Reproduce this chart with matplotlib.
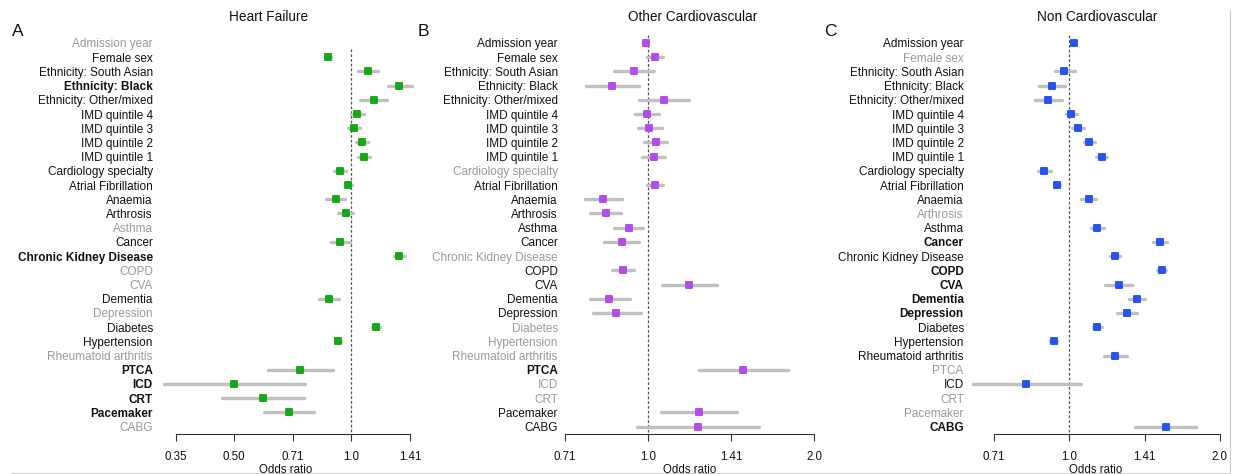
import matplotlib
matplotlib.use('Agg')
import matplotlib.pyplot as plt
from matplotlib.markers import MarkerStyle
from matplotlib.lines import Line2D
from matplotlib.ticker import NullLocator
import numpy as np

plt.rcParams['font.family'] = ['Liberation Sans', 'DejaVu Sans']

nan = np.nan

rows = ['Admission year', 'Female sex', 'Ethnicity: South Asian', 'Ethnicity: Black',
        'Ethnicity: Other/mixed', 'IMD quintile 4', 'IMD quintile 3', 'IMD quintile 2',
        'IMD quintile 1', 'Cardiology specialty', 'Atrial Fibrillation', 'Anaemia',
        'Arthrosis', 'Asthma', 'Cancer', 'Chronic Kidney Disease', 'COPD', 'CVA',
        'Dementia', 'Depression', 'Diabetes', 'Hypertension', 'Rheumatoid arthritis',
        'PTCA', 'ICD', 'CRT', 'Pacemaker', 'CABG']

# Heart Failure
or_A = [nan, 0.872, 1.101, 1.328, 1.141, 1.035, 1.014, 1.065, 1.077, 0.935, 0.982, 0.911, 0.967, nan,
        0.937, 1.325, nan, nan, 0.876, nan, 1.155, 0.924, nan, 0.739, 0.500, 0.592, 0.693, nan]
lo_A = [nan, 0.858, 1.040, 1.240, 1.055, 1.000, 0.980, 1.028, 1.040, 0.900, 0.965, 0.862, 0.925, nan,
        0.888, 1.290, nan, nan, 0.825, nan, 1.128, 0.905, nan, 0.612, 0.330, 0.466, 0.598, nan]
hi_A = [nan, 0.886, 1.168, 1.430, 1.232, 1.076, 1.055, 1.104, 1.119, 0.970, 1.004, 0.964, 1.012, nan,
        0.994, 1.370, nan, nan, 0.931, nan, 1.184, 0.943, nan, 0.895, 0.760, 0.754, 0.802, nan]

# Other Cardiovascular
or_B = [0.991, 1.029, 0.942, 0.859, 1.068, 0.995, 1.005, 1.032, 1.023, nan, 1.029, 0.829, 0.838, 0.922,
        0.897, nan, 0.899, 1.187, 0.850, 0.875, nan, nan, nan, 1.488, nan, nan, 1.237, 1.231]
lo_B = [0.985, 0.996, 0.868, 0.770, 0.962, 0.946, 0.957, 0.982, 0.974, nan, 0.996, 0.767, 0.785, 0.866,
        0.833, nan, 0.861, 1.058, 0.783, 0.793, nan, nan, nan, 1.236, nan, nan, 1.055, 0.955]
hi_B = [0.997, 1.062, 1.024, 0.961, 1.185, 1.047, 1.058, 1.084, 1.075, nan, 1.062, 0.898, 0.892, 0.980,
        0.964, nan, 0.941, 1.333, 0.927, 0.969, nan, nan, nan, 1.795, nan, nan, 1.447, 1.589]

# Non Cardiovascular
or_C = [1.022, nan, 0.978, 0.925, 0.908, 1.010, 1.040, 1.095, 1.161, 0.891, 0.947, 1.094, nan, 1.137,
        1.519, 1.233, 1.530, 1.256, 1.366, 1.305, 1.138, 0.931, 1.236, nan, 0.819, nan, nan, 1.558]
lo_C = [1.012, nan, 0.936, 0.871, 0.856, 0.984, 1.013, 1.068, 1.132, 0.866, 0.936, 1.057, nan, 1.103,
        1.472, 1.205, 1.498, 1.181, 1.317, 1.247, 1.115, 0.916, 1.174, nan, 0.642, nan, nan, 1.351]
hi_C = [1.032, nan, 1.026, 0.982, 0.968, 1.037, 1.071, 1.127, 1.192, 0.918, 0.960, 1.133, nan, 1.172,
        1.571, 1.262, 1.562, 1.335, 1.416, 1.366, 1.161, 0.946, 1.307, nan, 1.054, nan, nan, 1.795]

bold_A = ['Ethnicity: Black', 'Chronic Kidney Disease', 'PTCA', 'ICD', 'CRT', 'Pacemaker']
bold_B = ['PTCA']
bold_C = ['Cancer', 'COPD', 'CVA', 'Dementia', 'Depression', 'CABG']

titles = ['Heart Failure', 'Other Cardiovascular', 'Non Cardiovascular']
letters = ['A', 'B', 'C']
ticks_A = [2 ** -1.5, 2 ** -1, 2 ** -0.5, 1.0, 2 ** 0.5]
ticklabels_A = ['0.35', '0.50', '0.71', '1.0', '1.41']
ticks_BC = [2 ** -0.5, 1.0, 2 ** 0.5, 2.0]
ticklabels_BC = ['0.71', '1.0', '1.41', '2.0']

W, H = 1233, 474
fig = plt.figure(figsize=(W / 100, H / 100), dpi=100)

panels = [
    dict(orr=or_A, lo=lo_A, hi=hi_A, bold=bold_A, color='#17a817', box=(157, 415),
         xlim=(0.3167, 1.4569), ticks=ticks_A, tl=ticklabels_A, title_x=269, letter_x=18),
    dict(orr=or_B, lo=lo_B, hi=hi_B, bold=bold_B, color='#b44de8', box=(562, 818),
         xlim=(0.698, 2.0325), ticks=ticks_BC, tl=ticklabels_BC, title_x=693, letter_x=423),
    dict(orr=or_C, lo=lo_C, hi=hi_C, bold=bold_C, color='#2a52f0', box=(968, 1224),
         xlim=(0.6276, 2.0383), ticks=ticks_BC, tl=ticklabels_BC, title_x=1097, letter_x=830),
]

top_px, bot_px = 36, 434
y_top, y_bot = -0.49, 27.52
n = len(rows)
yy = np.arange(n)
marker = MarkerStyle('s', joinstyle='round')

for k, p in enumerate(panels):
    l, r = p['box']
    ax = fig.add_axes([l / W, 1 - bot_px / H, (r - l) / W, (bot_px - top_px) / H])
    ax.patch.set_alpha(0)
    ax.set_xscale('log', base=2)
    ax.set_xlim(*p['xlim'])
    ax.set_ylim(y_bot, y_top)
    orr = np.array(p['orr'], dtype=float)
    lo = np.array(p['lo'], dtype=float)
    hi = np.array(p['hi'], dtype=float)
    valid = ~np.isnan(orr)
    first = yy[valid].min()
    ax.plot([1, 1], [first - 0.55, y_bot], ls=(0, (2.2, 1.6)), color='#555555', lw=0.9, zorder=1,
            clip_on=False)
    for i in yy[valid]:
        ax.plot([lo[i], hi[i]], [i, i], color='#c0c0c0', lw=2.4, solid_capstyle='round',
                zorder=2, clip_on=False)
    ax.plot(orr[valid], yy[valid], ls='none', marker=marker, ms=4.5, mew=1.4,
            mfc=p['color'], mec=p['color'], zorder=3, clip_on=False)
    ax.set_yticks(yy)
    ax.set_yticklabels(rows)
    for i, lab in enumerate(ax.get_yticklabels()):
        if not valid[i]:
            lab.set_color('#9a9a9a')
        else:
            lab.set_color('#111111')
            if rows[i] in p['bold']:
                lab.set_fontweight('bold')
    ax.tick_params(axis='y', length=0, pad=3, labelsize=8.5)
    ax.set_xticks(p['ticks'])
    ax.set_xticklabels(p['tl'])
    ax.xaxis.set_minor_locator(NullLocator())
    ax.tick_params(axis='x', length=5, width=0.8, pad=7, labelsize=8.3, color='#333333',
                   labelcolor='#111111')
    for s in ['left', 'top', 'right']:
        ax.spines[s].set_visible(False)
    ax.spines['bottom'].set_bounds(p['ticks'][0], p['ticks'][-1])
    ax.spines['bottom'].set_color('#333333')
    ax.spines['bottom'].set_linewidth(0.8)
    ax.set_xlabel('Odds ratio', fontsize=8.3, labelpad=1, color='#111111')

    fig.text(p['title_x'] / W, 1 - 17 / H, titles[k], ha='center', va='center', fontsize=9.8,
             color='#111111')
    fig.text(p['letter_x'] / W, 1 - 31 / H, letters[k], ha='center', va='center', fontsize=12.5,
             color='#111111')

fig.add_artist(Line2D([12 / W, 1230 / W], [1 - 473 / H, 1 - 473 / H], color='#cccccc', lw=0.8))
fig.add_artist(Line2D([1230 / W, 1230 / W], [1 - 10 / H, 1 - 473 / H], color='#cccccc', lw=0.8))

fig.savefig('out.png', dpi=100)
